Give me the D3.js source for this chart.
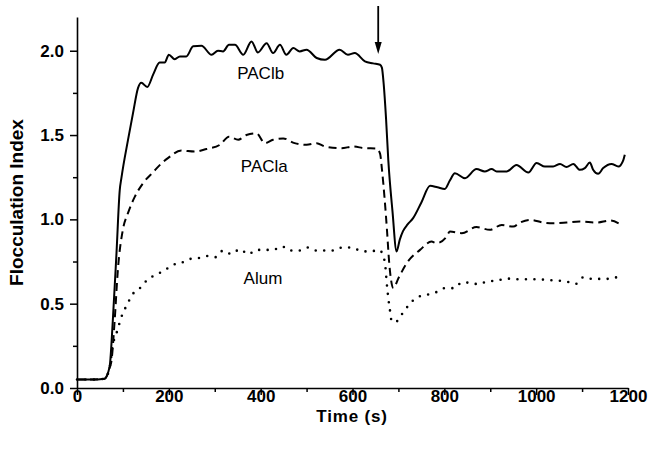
<!DOCTYPE html>
<html>
<head>
<meta charset="utf-8">
<script src="https://cdn.jsdelivr.net/npm/d3@7"></script>
<style>
  body { margin: 0; background: #fff; }
  svg { display: block; font-family: Arial, "Liberation Sans", sans-serif; }
</style>
</head>
<body>
<div id="chart"></div>
<script>
// [time (s), flocculation index]
const paclb = [
  [0,0.05],[30,0.05],[60,0.055],[71,0.126],[78,0.40],[86,0.80],[93,1.17],[97,1.25],[111,1.47],
  [122,1.63],[133,1.78],[140,1.81],[153,1.785],[166,1.86],[180,1.93],[191,1.93],[200,1.976],
  [213,1.95],[224,1.966],[238,1.966],[253,2.026],[271,2.03],[293,1.976],[307,2.0],[318,1.996],
  [331,2.035],[344,2.035],[362,1.976],[380,2.055],[394,1.99],[413,2.045],[427,1.986],[442,2.035],
  [456,1.976],[471,2.016],[485,1.996],[500,2.006],[522,1.957],[540,1.946],[572,2.006],[590,1.976],
  [605,1.986],[627,1.937],[645,1.925],[660,1.917],[664,1.9],[668,1.8],[673,1.6],[678,1.35],
  [687,1.05],[696,0.81],[703,0.88],[710,0.93],[720,0.97],[732,1.007],[750,1.1],[769,1.199],
  [785,1.19],[801,1.18],[812,1.23],[823,1.274],[845,1.244],[870,1.298],[888,1.284],[903,1.298],
  [914,1.284],[936,1.284],[957,1.323],[983,1.278],[1001,1.334],[1019,1.313],[1037,1.313],
  [1052,1.329],[1066,1.31],[1081,1.329],[1095,1.294],[1106,1.304],[1117,1.337],[1124,1.294],
  [1135,1.27],[1146,1.304],[1164,1.329],[1179,1.313],[1190,1.353],[1193,1.383]
]

const pacla = [
  [0,0.05],[30,0.05],[60,0.055],[71,0.12],[75,0.16],[82,0.40],[89,0.70],[100,0.94],[111,1.037],
  [126,1.135],[144,1.215],[169,1.289],[177,1.313],[198,1.363],[227,1.408],[256,1.402],[282,1.417],
  [311,1.442],[331,1.49],[351,1.472],[369,1.5],[391,1.51],[409,1.452],[427,1.472],[449,1.48],
  [474,1.452],[500,1.442],[522,1.452],[540,1.432],[576,1.422],[601,1.432],[627,1.422],[652,1.42],
  [660,1.39],[664,1.3],[670,1.12],[675,0.94],[680,0.74],[689,0.592],[700,0.651],[718,0.74],
  [747,0.819],[772,0.868],[783,0.859],[805,0.898],[812,0.928],[838,0.918],[870,0.954],[899,0.938],
  [925,0.967],[950,0.957],[965,0.981],[987,0.997],[1016,0.981],[1037,0.977],[1066,0.981],
  [1095,0.987],[1132,0.981],[1161,0.993],[1182,0.973]
]

const alum = [
  [0,0.05],[30,0.05],[60,0.055],[71,0.12],[78,0.255],[86,0.325],[92,0.38],[99,0.439],[109,0.493],
  [120,0.552],[137,0.592],[153,0.641],[171,0.671],[190,0.696],[208,0.73],[226,0.74],[243,0.764],
  [264,0.77],[282,0.783],[302,0.776],[318,0.815],[336,0.795],[355,0.823],[373,0.793],[391,0.819],
  [409,0.819],[427,0.819],[447,0.839],[463,0.815],[483,0.815],[502,0.833],[522,0.815],[540,0.815],
  [558,0.815],[577,0.833],[598,0.833],[618,0.813],[638,0.809],[658,0.819],[669,0.764],[672,0.71],
  [674,0.641],[678,0.532],[681,0.473],[685,0.40],[692,0.388],[709,0.443],[723,0.493],[741,0.538],
  [761,0.552],[782,0.568],[801,0.592],[822,0.592],[838,0.625],[856,0.625],[874,0.615],[892,0.631],
  [914,0.637],[936,0.649],[957,0.645],[979,0.645],[1001,0.645],[1023,0.641],[1045,0.637],
  [1066,0.631],[1086,0.617],[1103,0.657],[1121,0.647],[1139,0.647],[1154,0.647],[1168,0.655],
  [1188,0.657]
]

const xTicks = [0, 200, 400, 600, 800, 1000, 1200]
const yTicks = [0, 0.5, 1.0, 1.5, 2.0]
const arrowTime = 656

const width = 652, height = 457
const margin = { top: 17, right: 24, bottom: 69, left: 77 }

const svg = d3.select("#chart").append("svg")
  .attr("width", width)
  .attr("height", height)

const x = d3.scaleLinear().domain([0, 1200]).range([margin.left, width - margin.right])
const y = d3.scaleLinear().domain([0, 2.2]).range([height - margin.bottom, margin.top])

// minor ticks first, then major ticks with labels
svg.append("g")
  .attr("transform", `translate(0,${y(0)})`)
  .call(d3.axisBottom(x).tickValues(d3.range(100, 1200, 200)).tickSize(4).tickFormat(""))
  .call(g => g.select(".domain").remove())

svg.append("g")
  .attr("transform", `translate(${x(0)},0)`)
  .call(d3.axisLeft(y).tickValues([0.25, 0.75, 1.25, 1.75]).tickSize(4).tickFormat(""))
  .call(g => g.select(".domain").remove())

const xAxis = svg.append("g")
  .attr("transform", `translate(0,${y(0)})`)
  .call(d3.axisBottom(x).tickValues(xTicks).tickSize(7).tickSizeOuter(0).tickFormat(d3.format("d")))
xAxis.selectAll("text").attr("y", 2)

const yAxis = svg.append("g")
  .attr("transform", `translate(${x(0)},0)`)
  .call(d3.axisLeft(y).tickValues(yTicks).tickSize(7).tickSizeOuter(0).tickFormat(d3.format(".1f")))
yAxis.selectAll("text").attr("x", -13)

svg.selectAll(".tick line").attr("stroke-width", 1.5)
svg.selectAll(".domain").attr("stroke-width", 1.6)
svg.selectAll(".tick text")
  .attr("font-size", 17)
  .attr("font-weight", "bold")
  .attr("font-family", "Arial, 'Liberation Sans', sans-serif")
  .attr("fill", "#000")

// axis titles
svg.append("text")
  .attr("x", 352).attr("y", 422)
  .attr("text-anchor", "middle")
  .attr("font-size", 17).attr("font-weight", "bold")
  .attr("letter-spacing", 0.8)
  .text("Time (s)")

svg.append("text")
  .attr("transform", `translate(23,${(y(0) + y(2.2)) / 2}) rotate(-90)`)
  .attr("text-anchor", "middle")
  .attr("font-size", 19).attr("font-weight", "bold")
  .text("Flocculation Index")

const line = d3.line()
  .x(d => x(d[0]))
  .y(d => y(d[1]))
  .curve(d3.curveMonotoneX)

svg.append("path").datum(alum)
  .attr("d", line).attr("fill", "none").attr("stroke", "#000")
  .attr("stroke-width", 2.6).attr("stroke-linecap", "round")
  .attr("stroke-dasharray", "0 8.5")

svg.append("path").datum(pacla)
  .attr("d", line).attr("fill", "none").attr("stroke", "#000")
  .attr("stroke-width", 2).attr("stroke-dasharray", "8 5")

svg.append("path").datum(paclb)
  .attr("d", line).attr("fill", "none").attr("stroke", "#000")
  .attr("stroke-width", 2)

// series labels
const labels = [
  { text: "PAClb", t: 400, v: 1.83 },
  { text: "PACla", t: 408, v: 1.28 },
  { text: "Alum", t: 405, v: 0.615 }
]
svg.selectAll(".lbl").data(labels).join("text")
  .attr("class", "lbl")
  .attr("x", d => x(d.t))
  .attr("y", d => y(d.v))
  .attr("text-anchor", "middle")
  .attr("font-size", 17)
  .text(d => d.text)

// arrow marking the change at ~656 s
const ax = x(arrowTime)
svg.append("line")
  .attr("x1", ax).attr("x2", ax)
  .attr("y1", 6).attr("y2", 44)
  .attr("stroke", "#000").attr("stroke-width", 1.8)
svg.append("path")
  .attr("d", `M${ax - 3.5},42 L${ax + 3.5},42 L${ax},54 Z`)
  .attr("fill", "#000")
</script>
</body>
</html>
